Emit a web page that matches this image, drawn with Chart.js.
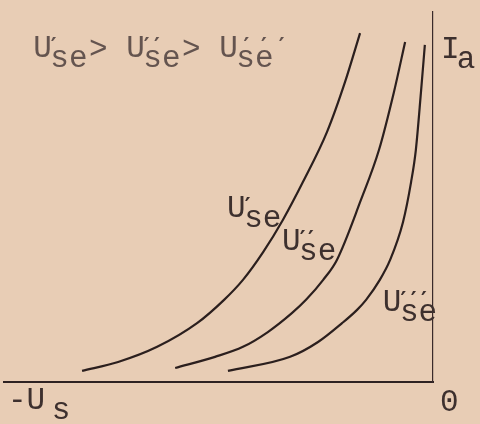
<!DOCTYPE html>
<html><head><meta charset="utf-8">
<script src="https://cdn.jsdelivr.net/npm/chart.js@4/dist/chart.umd.min.js"></script>
<style>
html,body{margin:0;padding:0;background:#e8cdb5;}
#wrap{width:480px;height:424px;position:relative;}
</style>
</head><body>
<div id="wrap"><canvas id="c" width="480" height="424"></canvas></div>
<script>
// grid voltage axis: -Us (=-100) ... 0 ; anode current axis: 0 ... 100 (relative units)
const curve1X = [-81.8, -73.4, -64.3, -55.0, -48.7, -44.3, -39.6, -35.0, -30.3, -24.7, -20.5, -17.0];
const curve1Y = [3.0, 5.4, 9.5, 15.9, 22.2, 27.6, 35.1, 43.8, 54.1, 67.6, 81.1, 94.3];
const curve2X = [-60.1, -50.8, -44.3, -38.5, -32.9, -29.6, -25.6, -22.4, -16.8, -12.6, -9.1, -6.5];
const curve2Y = [3.8, 6.8, 9.5, 13.5, 18.6, 22.2, 27.6, 33.0, 49.2, 62.7, 78.4, 91.9];
const curve3X = [-47.8, -33.3, -26.8, -21.2, -17.7, -15.6, -12.4, -10.0, -7.0, -5.1, -4.0, -2.8, -1.9];
const curve3Y = [3.0, 6.8, 10.8, 15.9, 19.5, 22.2, 27.6, 33.0, 43.2, 54.1, 62.7, 78.4, 91.1];
const curvePrimes = [1, 2, 3];
const subLabel = "se";
const xAxisLabel = "-U";
const xAxisSub = "s";
const originLabel = "0";
const yAxisLabel = "I";
const yAxisSub = "a";

const toPts = (xs, ys) => xs.map((x, i) => ({x, y: ys[i]}));

const INK = '#2b1f1e';
const TEXT = '#3d302e';
const LIGHT = '#64544f';
const FONT = '31px "Liberation Mono"';
const PRIMEFONT = 'bold 22px "DejaVu Sans"';

function drawSym(ctx, x, y, primes, sub, color, primeOffsets) {
  ctx.save();
  ctx.font = FONT; ctx.fillStyle = color;
  ctx.textBaseline = 'alphabetic'; ctx.textAlign = 'left';
  ctx.fillText('U', x, y);
  const adv = ctx.measureText('U').width;
  ctx.fillText(sub, x + adv * 0.92, y + 10);
  ctx.font = PRIMEFONT;
  for (let i = 0; i < primes; i++) {
    ctx.fillText('\u2032', x + primeOffsets[i], y - 4);
  }
  ctx.restore();
  return adv;
}

const labelPlugin = {
  id: 'labels',
  afterDraw(chart) {
    const ctx = chart.ctx, xs = chart.scales.x, ys = chart.scales.y;
    const px = v => xs.getPixelForValue(v), py = v => ys.getPixelForValue(v);
    ctx.save();
    ctx.font = FONT;
    const adv = ctx.measureText('U').width;
    // title: U'se > U''se > U'''se
    const tx = px(-93.2), ty = py(87.8);
    drawSym(ctx, tx, ty, curvePrimes[0], subLabel, LIGHT, [adv * 0.95]);
    ctx.font = FONT; ctx.fillStyle = LIGHT; ctx.textAlign = 'left';
    ctx.fillText('>', tx + adv * 3, ty + 1);
    drawSym(ctx, tx + adv * 5, ty, curvePrimes[1], subLabel, LIGHT, [adv * 0.95, adv * 1.5]);
    ctx.font = FONT; ctx.fillStyle = LIGHT;
    ctx.fillText('>', tx + adv * 8, ty + 1);
    drawSym(ctx, tx + adv * 10, ty, curvePrimes[2], subLabel, LIGHT, [adv * 1.3, adv * 2.25, adv * 3.2]);
    // curve labels
    drawSym(ctx, px(-48.0), py(44.6), curvePrimes[0], subLabel, TEXT, [adv * 0.95]);
    drawSym(ctx, px(-35.2), py(35.7), curvePrimes[1], subLabel, TEXT, [adv * 0.95, adv * 1.4]);
    drawSym(ctx, px(-11.7), py(19.2), curvePrimes[2], subLabel, TEXT, [adv * 0.95, adv * 1.5, adv * 2.05]);
    // axis labels
    ctx.font = FONT; ctx.fillStyle = TEXT; ctx.textAlign = 'left';
    ctx.fillText(yAxisLabel, px(0) + 8, py(87.5));
    ctx.fillText(yAxisSub, px(0) + 8 + adv * 0.85, py(87.5) + 10);
    ctx.fillText(originLabel, px(0) + 7, py(-7.8));
    const lx = chart.chartArea.left;
    ctx.fillText(xAxisLabel, lx + 4, py(-7.4));
    ctx.fillText(xAxisSub, lx + 4 + adv * 2.35, py(-7.4) + 10);
    ctx.restore();
  }
};

new Chart(document.getElementById('c'), {
  type: 'line',
  data: {
    datasets: [
      {data: toPts(curve1X, curve1Y)},
      {data: toPts(curve2X, curve2Y)},
      {data: toPts(curve3X, curve3Y)}
    ].map(d => Object.assign(d, {
      borderColor: INK, borderWidth: 2.2, pointRadius: 0,
      cubicInterpolationMode: 'monotone', fill: false
    }))
  },
  options: {
    responsive: false, animation: false, devicePixelRatio: 1,
    layout: {padding: {left: 4, top: 12, right: 47, bottom: 42}},
    plugins: {legend: {display: false}, tooltip: {enabled: false}},
    scales: {
      x: {type: 'linear', min: -100, max: 0,
          grid: {display: false, drawTicks: false}, ticks: {display: false},
          border: {display: true, color: '#2e2222', width: 2}},
      y: {type: 'linear', position: 'right', min: 0, max: 100,
          grid: {display: false, drawTicks: false}, ticks: {display: false},
          border: {display: true, color: '#3a2a2a', width: 1.2}}
    }
  },
  plugins: [labelPlugin]
});
</script>
</body></html>
